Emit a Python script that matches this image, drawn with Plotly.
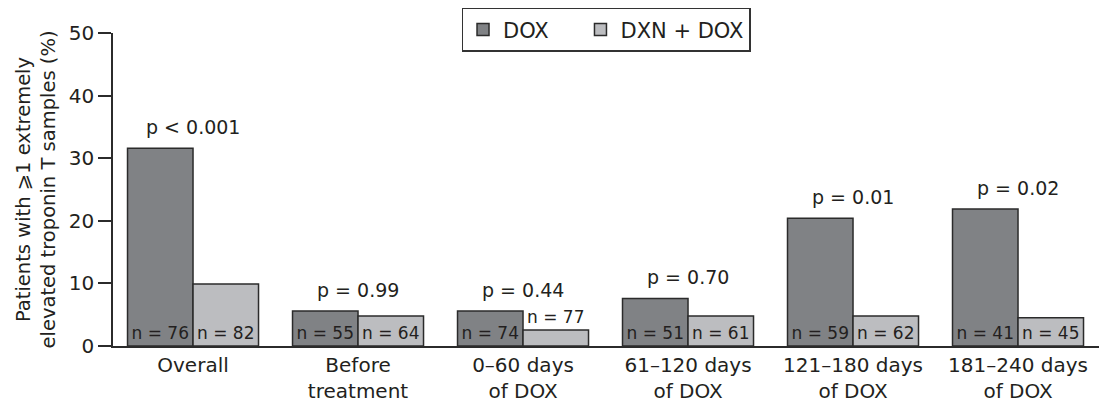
import plotly.graph_objects as go

categories = ["Overall", "Before<br>treatment", "0–60 days<br>of DOX",
              "61–120 days<br>of DOX", "121–180 days<br>of DOX", "181–240 days<br>of DOX"]
dox_values = [31.6, 5.6, 5.6, 7.6, 20.4, 21.9]
dxn_values = [9.9, 4.8, 2.55, 4.8, 4.8, 4.5]
dox_n = [76, 55, 74, 51, 59, 41]
dxn_n = [82, 64, 77, 61, 62, 45]
p_labels = ["p < 0.001", "p = 0.99", "p = 0.44", "p = 0.70", "p = 0.01", "p = 0.02"]
y_ticks = [0, 10, 20, 30, 40, 50]

FONT = "DejaVu Sans"
TXT = "#231f20"
EDGE = "#2b2b2b"
NB = "\u00a0"

def nlabel(n):
    return f"n = {n}"

fig = go.Figure()
fig.add_trace(go.Bar(
    name="DOX" + NB * 4, x=categories, y=dox_values,
    marker=dict(color="#808285", line=dict(color=EDGE, width=1.5)),
    text=[nlabel(n) for n in dox_n],
    textposition=["inside" if v > 4 else "outside" for v in dox_values],
    insidetextanchor="start", textangle=0,
    textfont=dict(family=FONT, size=17, color=TXT),
    cliponaxis=False,
))
fig.add_trace(go.Bar(
    name="DXN + DOX", x=categories, y=dxn_values,
    marker=dict(color="#bcbdc0", line=dict(color=EDGE, width=1.5)),
    text=[nlabel(n) for n in dxn_n],
    textposition=["inside" if v > 4 else "outside" for v in dxn_values],
    insidetextanchor="start", textangle=0,
    textfont=dict(family=FONT, size=17, color=TXT),
    cliponaxis=False,
))

for i, lab in enumerate(p_labels):
    fig.add_annotation(
        x=categories[i], y=max(dox_values[i], dxn_values[i]),
        text=lab, showarrow=False, yanchor="middle", yshift=21,
        font=dict(family=FONT, size=19, color=TXT),
    )

fig.add_annotation(
    xref="paper", yref="paper", x=0, y=0.5, xshift=-78, xanchor="center", yanchor="middle",
    text="Patients with ⩾1 extremely<br>elevated troponin T samples (%)",
    textangle=-90, showarrow=False, font=dict(family=FONT, size=19.5, color=TXT),
)

fig.update_layout(
    width=1099, height=401,
    margin=dict(l=105, r=5, t=25, b=63, autoexpand=False),
    paper_bgcolor="white", plot_bgcolor="white",
    barmode="group", bargap=0.206, bargroupgap=0,
    font=dict(family=FONT, size=20, color=TXT),
    showlegend=True,
    legend=dict(
        orientation="h", x=0.4985, xanchor="center", y=1.08, yanchor="top",
        bordercolor="#333333", borderwidth=1.5, bgcolor="white",
        font=dict(family=FONT, size=21, color=TXT),
        traceorder="normal",
    ),
    xaxis=dict(
        range=[-0.485, 5.509], showline=True, linecolor=EDGE, linewidth=1.5,
        ticks="", showgrid=False, zeroline=False,
        tickfont=dict(family=FONT, size=20, color=TXT),
    ),
    yaxis=dict(
        range=[0, 50], tickvals=y_ticks, showline=True, linecolor=EDGE, linewidth=1.5,
        ticks="outside", ticklen=13, tickcolor=EDGE, tickwidth=1.5,
        showgrid=False, zeroline=False,
        tickfont=dict(family=FONT, size=20, color=TXT),
    ),
)

fig.write_html("out.html")
